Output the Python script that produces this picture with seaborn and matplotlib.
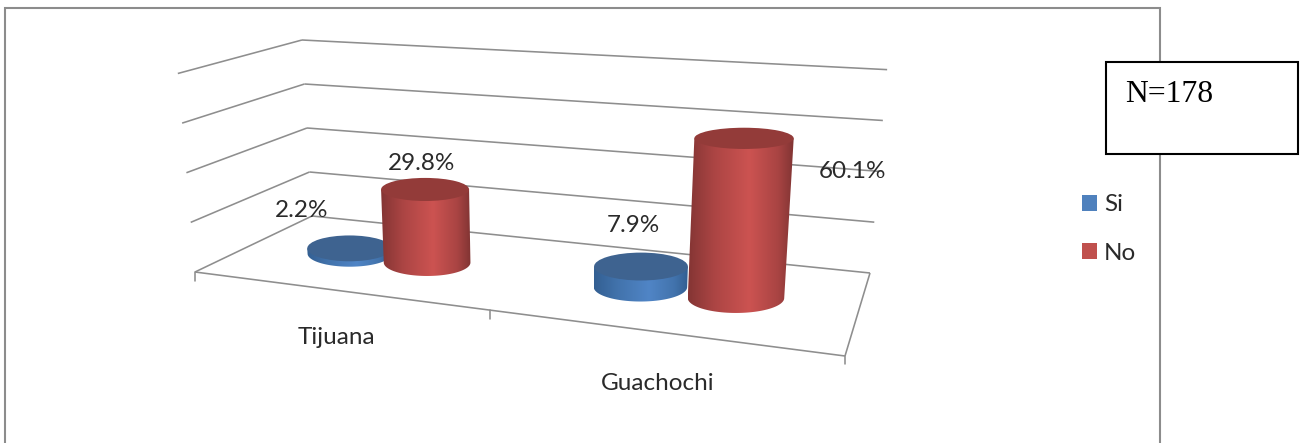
import numpy as np
import pandas as pd
import seaborn as sns
import matplotlib
matplotlib.use("Agg")
import matplotlib.pyplot as plt
from matplotlib.colors import LinearSegmentedColormap
from matplotlib.patches import Ellipse, Patch, Polygon, Rectangle

# Values
categories = ["Tijuana", "Guachochi"]
si_values = [2.2, 7.9]
no_values = [29.8, 60.1]
axis_ticks = [20, 40, 60, 80]
series_names = ["Si", "No"]
sample_note = "N=178"

df = pd.DataFrame({"lugar": categories, "Si": si_values, "No": no_values}).melt(
    id_vars="lugar", var_name="serie", value_name="pct"
)

sns.set_theme(style="white")
plt.rcParams["font.family"] = ["Lato", "DejaVu Sans"]
palette = dict(zip(series_names, sns.color_palette(["#4F81BD", "#C0504D"])))

W, H = 1304, 443
fig = plt.figure(figsize=(W / 100, H / 100), dpi=100, facecolor="white")
ax = fig.add_axes([0, 0, 1, 1])
ax.set_xlim(0, W)
ax.set_ylim(H, 0)
ax.axis("off")

# Floor quad in screen space: back-left, back-right, front-right, front-left
BL, BR, FR, FL = (312, 216), (870, 273), (845, 356), (195, 272)


def floor_homography(p0, p1, p2, p3):
    dx1, dx2, sx = p1[0] - p2[0], p3[0] - p2[0], p0[0] - p1[0] + p2[0] - p3[0]
    dy1, dy2, sy = p1[1] - p2[1], p3[1] - p2[1], p0[1] - p1[1] + p2[1] - p3[1]
    det = dx1 * dy2 - dx2 * dy1
    g = (sx * dy2 - dx2 * sy) / det
    h = (dx1 * sy - sx * dy1) / det
    return np.array([
        [p1[0] - p0[0] + g * p1[0], p3[0] - p0[0] + h * p3[0], p0[0]],
        [p1[1] - p0[1] + g * p1[1], p3[1] - p0[1] + h * p3[1], p0[1]],
        [g, h, 1.0],
    ])


HOM = floor_homography(BL, BR, FR, FL)


def depth_w(s, t):
    return HOM[2, 0] * s + HOM[2, 1] * t + 1.0


def project(s, t, z=0.0):
    """Floor position (s across, t back to front) and percent height to screen."""
    x, y, w = HOM @ np.array([s, t, 1.0])
    x, y = x / w, y / w
    rise = z * 2.2 * w ** -0.75
    return x + (x - 537) * 0.000253 * rise, y - rise


GRID = "#8E8E8E"
GRID_LW = 1.15


def seg(a, b, **kw):
    ax.plot([a[0], b[0]], [a[1], b[1]], color=GRID, lw=GRID_LW,
            solid_capstyle="butt", **kw)


# Walls: one line per axis tick on the side wall and the back wall
for tick in axis_ticks:
    seg(project(0, 1, tick), project(0, 0, tick), zorder=1)
    seg(project(0, 0, tick), project(1, 0, tick), zorder=1)

# Floor outline
corners = [(0, 0), (1, 0), (1, 1), (0, 1), (0, 0)]
for a, b in zip(corners[:-1], corners[1:]):
    seg(project(*a), project(*b), zorder=1)

# Category axis ticks under the front edge
category_edges = [0.0, 0.511, 1.0]
for s in category_edges:
    x, y = project(s, 1)
    ax.plot([x, x], [y, y + 8.5], color=GRID, lw=GRID_LW, zorder=1)

# Cylinders
ramps = {
    "Si": ["#335F92", "#4273AC", "#5085C6", "#4273AC", "#315D90"],
    "No": ["#843534", "#AC4544", "#CC5351", "#A94443", "#813433"],
}
tops = {"Si": "#3E6390", "No": "#933B39"}
stops = [0, 0.25, 0.58, 0.85, 1]
series_shift = {"Si": -0.07, "No": 0.0735}
centres = [(a + b) / 2 for a, b in zip(category_edges[:-1], category_edges[1:])]
DEPTH = 0.52


def ellipse_radii(s, t, z):
    rx = 37.5 / depth_w(s, t) * (1 + z * 0.0005)
    return rx, rx * (0.31 - 0.0016 * z)


for _, row in df.sort_values("serie", ascending=False).iterrows():
    idx = categories.index(row["lugar"])
    serie, pct = row["serie"], row["pct"]
    s = centres[idx] + series_shift[serie]
    zo = 3 + 2 * idx + (1 if serie == "No" else 0)

    bx, by = project(s, DEPTH, 0)
    tx, ty = project(s, DEPTH, pct)
    brx, bry = ellipse_radii(s, DEPTH, 0)
    trx, try_ = ellipse_radii(s, DEPTH, pct)

    ang = np.linspace(np.pi, 0, 60)
    lower = np.c_[bx + brx * np.cos(ang), by + bry * np.sin(ang)]
    body = np.vstack([lower, [[tx + trx, ty], [tx - trx, ty]]])

    left, right = body[:, 0].min(), body[:, 0].max()
    cmap = LinearSegmentedColormap.from_list(
        f"ramp_{serie}", list(zip(stops, ramps[serie]))
    )
    img = ax.imshow(np.linspace(0, 1, 256)[None, :], cmap=cmap, aspect="auto",
                    extent=[left, right, by + bry + 1, ty - 1],
                    interpolation="bilinear", zorder=zo)
    outline = Polygon(body, closed=True, transform=ax.transData, fc="none", ec="none")
    ax.add_patch(outline)
    img.set_clip_path(outline)
    ax.add_patch(Ellipse((tx, ty), 2 * trx, 2 * try_, fc=tops[serie], ec="none",
                         zorder=zo + 0.5))

ax.set_xlim(0, W)
ax.set_ylim(H, 0)

# Value labels
TEXT = "#2A2A2A"
LABEL_PT = 17.5
label_xy = {
    ("Tijuana", "Si"): (302, 210),
    ("Tijuana", "No"): (422, 163),
    ("Guachochi", "Si"): (633, 225),
    ("Guachochi", "No"): (853, 171),
}
for _, row in df.iterrows():
    x, y = label_xy[(row["lugar"], row["serie"])]
    ax.text(x, y, f"{row['pct']:.1f}%", ha="center", va="center",
            fontsize=LABEL_PT, color=TEXT, zorder=20)

# Category labels
for name, (x, y) in zip(categories, [(336, 338), (658, 383)]):
    ax.text(x, y, name, ha="center", va="center", fontsize=LABEL_PT,
            color=TEXT, zorder=20)

# Chart frame, open at the bottom
FRAME = "#8C8C8C"
ax.plot([5, 5, 1160, 1160], [H, 8, 8, H], color=FRAME, lw=1.5, zorder=2,
        solid_joinstyle="miter")

# Legend
legend = ax.legend(
    handles=[Patch(facecolor=palette[n], edgecolor="none", label=n) for n in series_names],
    loc="upper left", bbox_to_anchor=(1062.5 / W, 1 - 175 / H), frameon=False,
    fontsize=LABEL_PT, handlelength=0.62, handleheight=0.62, handletextpad=0.29,
    labelspacing=1.13, borderpad=0.3, labelcolor=TEXT,
)
legend.set_zorder(20)

# Sample size box
ax.add_patch(Rectangle((1105.5, 61.5), 192.5, 92, fc="white", ec="black",
                       lw=1.5, zorder=25))
ax.text(1125, 102, sample_note, ha="left", va="baseline", fontsize=22.8,
        family=["Liberation Serif"], color="black", zorder=26)

sns.despine(ax=ax, left=True, bottom=True)
fig.savefig("out.png", dpi=100, facecolor="white")
